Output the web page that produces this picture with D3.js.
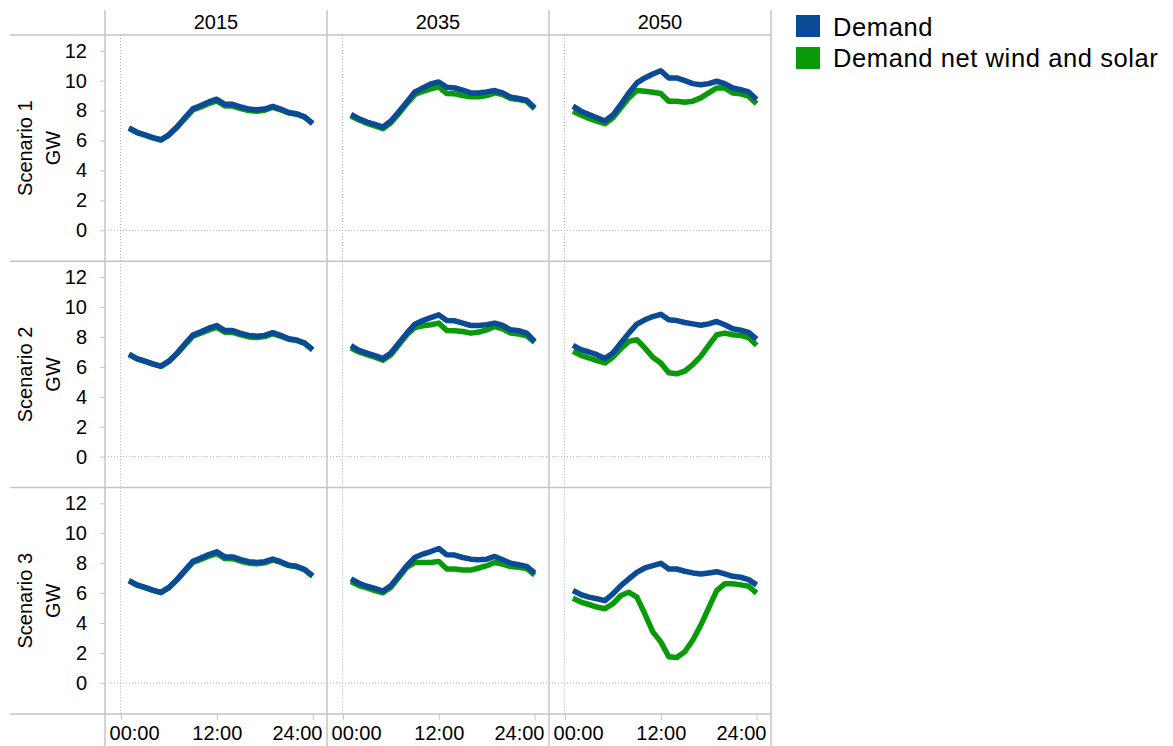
<!DOCTYPE html>
<html>
<head>
<meta charset="utf-8">
<script src="https://cdn.jsdelivr.net/npm/d3@7/dist/d3.min.js"></script>
<style>
  html, body { margin: 0; padding: 0; background: #fff; }
  svg text { font-family: Arial, "Liberation Sans", sans-serif; fill: #000; }
</style>
</head>
<body>
<svg id="chart" width="1173" height="746"></svg>
<script>
// Hourly electricity demand profiles (GW), by scenario and year
const hours = d3.range(1, 25);
const years = ["2015", "2035", "2050"];
const scenarios = ["Scenario 1", "Scenario 2", "Scenario 3"];
const seriesNames = ["Demand", "Demand net wind and solar"];
const yTicks = [0, 2, 4, 6, 8, 10, 12];
const xTicks = [0, 12, 24];
const xTickLabels = ["00:00", "12:00", "24:00"];

const demand2015 = [6.84, 6.55, 6.38, 6.2, 6.05, 6.38, 6.9, 7.52, 8.12, 8.34, 8.58, 8.76, 8.42, 8.42, 8.24, 8.1, 8.05, 8.1, 8.28, 8.1, 7.87, 7.79, 7.58, 7.15];
const net2015 = [6.82, 6.53, 6.36, 6.18, 6.03, 6.36, 6.87, 7.46, 8.05, 8.25, 8.47, 8.64, 8.31, 8.3, 8.13, 8.0, 7.96, 8.02, 8.22, 8.05, 7.84, 7.76, 7.56, 7.13];

const demand2035S1 = [7.74, 7.46, 7.23, 7.08, 6.9, 7.3, 7.92, 8.58, 9.25, 9.51, 9.78, 9.91, 9.56, 9.51, 9.36, 9.18, 9.18, 9.25, 9.34, 9.18, 8.89, 8.81, 8.69, 8.19];
const net2035S1 = [7.63, 7.37, 7.15, 6.97, 6.79, 7.19, 7.81, 8.47, 9.07, 9.29, 9.45, 9.58, 9.14, 9.12, 9.0, 8.92, 8.92, 9.0, 9.18, 9.07, 8.81, 8.74, 8.63, 8.12];
const demand2050S1 = [8.3, 7.96, 7.74, 7.52, 7.3, 7.7, 8.41, 9.18, 9.85, 10.18, 10.44, 10.66, 10.18, 10.18, 10.0, 9.8, 9.73, 9.8, 9.96, 9.8, 9.51, 9.4, 9.25, 8.74];
const net2050S1 = [7.96, 7.7, 7.48, 7.3, 7.12, 7.52, 8.19, 8.85, 9.34, 9.29, 9.23, 9.14, 8.63, 8.63, 8.56, 8.63, 8.85, 9.18, 9.51, 9.51, 9.18, 9.12, 8.96, 8.45];

const demand2035S2 = [7.41, 7.1, 6.92, 6.75, 6.55, 6.92, 7.59, 8.25, 8.85, 9.09, 9.29, 9.47, 9.09, 9.07, 8.92, 8.76, 8.76, 8.81, 8.92, 8.76, 8.47, 8.41, 8.25, 7.7];
const net2035S2 = [7.26, 6.99, 6.81, 6.64, 6.44, 6.81, 7.48, 8.14, 8.63, 8.74, 8.81, 8.92, 8.43, 8.41, 8.36, 8.25, 8.32, 8.47, 8.69, 8.54, 8.25, 8.19, 8.08, 7.63];
const demand2050S2 = [7.43, 7.15, 6.99, 6.81, 6.55, 6.92, 7.59, 8.25, 8.85, 9.14, 9.36, 9.51, 9.14, 9.09, 8.96, 8.87, 8.78, 8.87, 9.03, 8.81, 8.54, 8.45, 8.3, 7.85];
const net2050S2 = [7.04, 6.77, 6.59, 6.42, 6.26, 6.64, 7.21, 7.7, 7.81, 7.26, 6.64, 6.26, 5.6, 5.53, 5.71, 6.15, 6.7, 7.43, 8.14, 8.25, 8.14, 8.1, 7.96, 7.43];

const demand2035S3 = [6.95, 6.66, 6.46, 6.31, 6.13, 6.5, 7.17, 7.83, 8.38, 8.61, 8.78, 8.98, 8.56, 8.54, 8.38, 8.27, 8.23, 8.27, 8.45, 8.23, 7.99, 7.9, 7.79, 7.35];
const net2035S3 = [6.77, 6.5, 6.35, 6.17, 6.02, 6.39, 7.06, 7.72, 8.05, 8.05, 8.05, 8.12, 7.61, 7.61, 7.54, 7.54, 7.68, 7.83, 8.05, 7.94, 7.77, 7.72, 7.65, 7.21];
const demand2050S3 = [6.17, 5.9, 5.73, 5.62, 5.5, 5.95, 6.5, 6.95, 7.39, 7.68, 7.83, 7.99, 7.61, 7.61, 7.46, 7.35, 7.28, 7.35, 7.43, 7.28, 7.12, 7.06, 6.9, 6.55];
const net2050S3 = [5.66, 5.4, 5.24, 5.07, 4.96, 5.29, 5.84, 6.06, 5.73, 4.62, 3.41, 2.74, 1.75, 1.7, 2.08, 2.85, 3.85, 5.02, 6.17, 6.62, 6.62, 6.55, 6.46, 6.0];

// grid of [scenario][year] -> [demand, net]
const grid = [
  [[demand2015, net2015], [demand2035S1, net2035S1], [demand2050S1, net2050S1]],
  [[demand2015, net2015], [demand2035S2, net2035S2], [demand2050S2, net2050S2]],
  [[demand2015, net2015], [demand2035S3, net2035S3], [demand2050S3, net2050S3]]
];

const colors = { "Demand": "#0b4a94", "Demand net wind and solar": "#089a08" };

// layout
const plotLeft = 105, plotTop = 35;
const panelW = 222, panelH = 226.3;
const gridColor = "#c4c4c4";

const svg = d3.select("#chart");

const x = d3.scaleLinear().domain([-2, 25.8]).range([0, panelW]);
const y = d3.scaleLinear().domain([-2.07, 13.05]).range([panelH, 0]);

const line = d3.line()
  .x((d, i) => x(hours[i]))
  .y(d => y(d));

// panels
scenarios.forEach((scen, r) => {
  years.forEach((yr, c) => {
    const g = svg.append("g")
      .attr("transform", `translate(${plotLeft + c * panelW},${plotTop + r * panelH})`);

    // reference lines at zero
    g.append("line")
      .attr("x1", 0).attr("x2", panelW)
      .attr("y1", y(0)).attr("y2", y(0))
      .attr("stroke", "#b0b0b0").attr("stroke-width", 1)
      .attr("stroke-dasharray", "1,2");
    g.append("line")
      .attr("x1", x(0) - 0.5).attr("x2", x(0) - 0.5)
      .attr("y1", 0).attr("y2", panelH)
      .attr("stroke", "#b0b0b0").attr("stroke-width", 1)
      .attr("stroke-dasharray", "1,2");

    const [dem, net] = grid[r][c];
    g.append("path")
      .datum(net)
      .attr("d", line)
      .attr("fill", "none")
      .attr("stroke", colors["Demand net wind and solar"])
      .attr("stroke-width", 5.5)
      .attr("stroke-linejoin", "round");
    g.append("path")
      .datum(dem)
      .attr("d", line)
      .attr("fill", "none")
      .attr("stroke", colors["Demand"])
      .attr("stroke-width", 5.5)
      .attr("stroke-linejoin", "round");
  });

  // y axis per row
  const ay = svg.append("g")
    .attr("transform", `translate(${plotLeft},${plotTop + r * panelH})`)
    .call(d3.axisLeft(y).tickValues(yTicks).tickSize(5).tickPadding(13));
  ay.select(".domain").remove();
  ay.selectAll(".tick line").attr("stroke", gridColor);
  ay.selectAll(".tick text")
    .attr("font-size", 20)
    .attr("font-family", "Arial, 'Liberation Sans', sans-serif")
    .attr("fill", "#000");

  // row title
  const cy = plotTop + r * panelH + panelH / 2;
  svg.append("text")
    .attr("transform", `translate(32,${cy}) rotate(-90)`)
    .attr("text-anchor", "middle")
    .attr("font-size", 20)
    .text(scen);
  svg.append("text")
    .attr("transform", `translate(60,${cy}) rotate(-90)`)
    .attr("text-anchor", "middle")
    .attr("font-size", 20)
    .text("GW");
});

// column headers and bottom axes
years.forEach((yr, c) => {
  svg.append("text")
    .attr("x", plotLeft + c * panelW + panelW / 2)
    .attr("y", 29)
    .attr("text-anchor", "middle")
    .attr("font-size", 20)
    .text(yr);

  const ax = svg.append("g")
    .attr("transform", `translate(${plotLeft + c * panelW},${plotTop + 3 * panelH})`)
    .call(d3.axisBottom(x).tickValues(xTicks)
      .tickFormat((d, i) => xTickLabels[i]).tickSize(6).tickPadding(6));
  ax.select(".domain").remove();
  ax.selectAll(".tick line").attr("stroke", gridColor);
  ax.selectAll(".tick text")
    .attr("font-size", 20)
    .attr("font-family", "Arial, 'Liberation Sans', sans-serif")
    .attr("fill", "#000");
  // keep the edge labels inside the panel
  ax.selectAll(".tick").filter(d => d === xTicks[0]).select("text")
    .attr("text-anchor", "start").attr("x", 4 - x(xTicks[0]));
  ax.selectAll(".tick").filter(d => d === xTicks[xTicks.length - 1]).select("text")
    .attr("text-anchor", "end").attr("x", panelW - 5 - x(xTicks[xTicks.length - 1]));
});

// frame: row and column separators
const plotRight = plotLeft + 3 * panelW;
d3.range(4).forEach(i => {
  svg.append("line")
    .attr("x1", 10).attr("x2", plotRight)
    .attr("y1", plotTop + i * panelH).attr("y2", plotTop + i * panelH)
    .attr("stroke", gridColor).attr("stroke-width", 1.5);
});
d3.range(4).forEach(i => {
  svg.append("line")
    .attr("x1", plotLeft + i * panelW).attr("x2", plotLeft + i * panelW)
    .attr("y1", 10).attr("y2", 746)
    .attr("stroke", gridColor).attr("stroke-width", 1.5);
});

// legend
const legend = svg.append("g").attr("transform", "translate(796,15)");
seriesNames.forEach((name, i) => {
  legend.append("rect")
    .attr("x", 0).attr("y", i * 32)
    .attr("width", 24).attr("height", 22)
    .attr("fill", colors[name]);
  legend.append("text")
    .attr("x", 37).attr("y", i * 31 + 21)
    .attr("font-size", 25.5)
    .attr("letter-spacing", 0.6)
    .text(name);
});
</script>
</body>
</html>
